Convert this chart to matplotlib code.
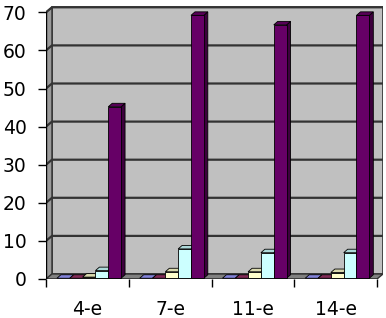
import numpy as np
import matplotlib.pyplot as plt
from matplotlib.patches import Polygon

categories = ["4-e", "7-e", "11-e", "14-e"]
series_blue = [0, 0, 0, 0]
series_red = [0, 0, 0, 0]
series_yellow = [0.3, 1.7, 1.7, 1.5]
series_cyan = [2, 7.7, 6.7, 6.7]
series_purple = [45, 69, 66.5, 69]

all_series = [series_blue, series_red, series_yellow, series_cyan, series_purple]
colors = ["#9999FF", "#993366", "#FFFFCC", "#CCFFFF", "#660066"]
yticks = [0, 10, 20, 30, 40, 50, 60, 70]


def shade(c, f):
    r, g, b = plt.matplotlib.colors.to_rgb(c)
    return (r * f, g * f, b * f)


W, H = 386, 318
fig = plt.figure(figsize=(W / 100, H / 100), dpi=100)
ax = fig.add_axes([46 / W, (H - 279) / H, (383 - 46) / W, 275 / H])

n = len(categories)
px_x = 83.0           # pixels per category
px_y = 3.81           # pixels per unit
dxd, dyd = 6 / px_x, 5 / px_y      # wall depth
bdx, bdy = 4 / px_x, 3.5 / px_y    # bar depth
ymax = 70

ax.set_xlim(-0.5, n - 0.5 + dxd)
ax.set_ylim(0, 275 / px_y)

grid_c = "#333333"
# walls
ax.add_patch(Polygon([(-0.5 + dxd, dyd), (n - 0.5 + dxd, dyd), (n - 0.5 + dxd, ymax + dyd),
                      (-0.5 + dxd, ymax + dyd)], closed=True, fc="#C0C0C0", ec=grid_c, lw=1.2, zorder=1))
ax.add_patch(Polygon([(-0.5, 0), (-0.5 + dxd, dyd), (-0.5 + dxd, ymax + dyd), (-0.5, ymax)],
                     closed=True, fc="#9a9a9a", ec=grid_c, lw=1.0, zorder=1))
ax.add_patch(Polygon([(-0.5, 0), (n - 0.5, 0), (n - 0.5 + dxd, dyd), (-0.5 + dxd, dyd)],
                     closed=True, fc="#808080", ec=grid_c, lw=1.0, zorder=1))
for v in yticks[1:]:
    ax.plot([-0.5, -0.5 + dxd, n - 0.5 + dxd], [v, v + dyd, v + dyd], color=grid_c, lw=1.6, zorder=2)

# bars with a simple 3D look
w = 0.155
off_x = (dxd - bdx) / 2
off_y = (dyd - bdy) / 2
for k, (vals, c) in enumerate(zip(all_series, colors)):
    for i, v in enumerate(vals):
        x0 = i - 0.38 + k * w + off_x
        y0 = off_y
        y1 = y0 + v
        z = 3 + k
        if v > 0:
            ax.add_patch(Polygon([(x0 + w, y0), (x0 + w + bdx, y0 + bdy), (x0 + w + bdx, y1 + bdy), (x0 + w, y1)],
                                 closed=True, fc=shade(c, 0.6), ec="black", lw=0.6, zorder=z))
            ax.add_patch(Polygon([(x0, y0), (x0 + w, y0), (x0 + w, y1), (x0, y1)],
                                 closed=True, fc=c, ec="black", lw=0.6, zorder=z))
        ax.add_patch(Polygon([(x0, y1), (x0 + w, y1), (x0 + w + bdx, y1 + bdy), (x0 + bdx, y1 + bdy)],
                             closed=True, fc=shade(c, 0.85), ec="black", lw=0.6, zorder=z))

# front axis lines
ax.plot([-0.5, -0.5], [0, ymax], color="black", lw=1.0, zorder=10)
ax.plot([-0.5, n - 0.5], [0, 0], color="black", lw=1.0, zorder=10)

for s in ax.spines.values():
    s.set_visible(False)

ax.set_yticks(yticks)
ax.set_yticklabels([str(t) for t in yticks])
ax.tick_params(axis="y", length=6, width=1, pad=8, labelsize=13.5)
ax.set_xticks(np.arange(n))
ax.set_xticklabels(categories)
ax.set_xticks(np.arange(n + 1) - 0.5, minor=True)
ax.tick_params(axis="x", which="major", length=0, pad=15, labelsize=13.5)
ax.tick_params(axis="x", which="minor", length=6, width=1)
for lab in ax.get_xticklabels() + ax.get_yticklabels():
    lab.set_fontfamily("DejaVu Sans")

fig.savefig("out.png", dpi=100)
